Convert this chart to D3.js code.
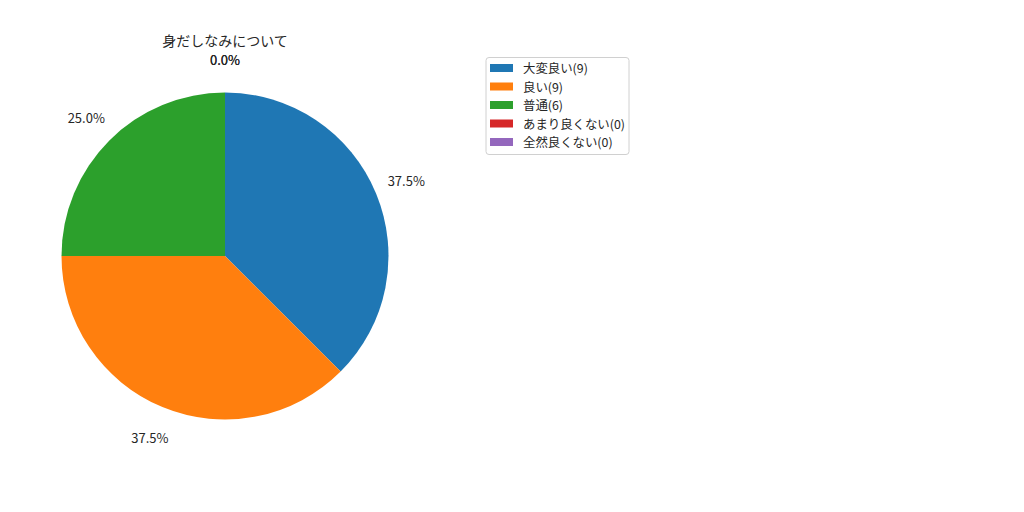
<!DOCTYPE html>
<html><head><meta charset="utf-8">
<script src="https://cdn.jsdelivr.net/npm/d3@7"></script>
<style>body{margin:0;background:#fff}svg{display:block}</style>
</head><body>
<svg id="chart" width="1024" height="512"></svg>
<script>
const title = "身だしなみについて";
const categories = ["大変良い", "良い", "普通", "あまり良くない", "全然良くない"];
const counts = [9, 9, 6, 0, 0];
const colors = ["#1f77b4", "#ff7f0e", "#2ca02c", "#d62728", "#9467bd"];

const FONT = "'Noto Sans CJK JP', 'DejaVu Sans', sans-serif";
const svg = d3.select("#chart");
const cx = 225, cy = 256, R = 163.5;
const total = d3.sum(counts);

const pie = d3.pie().sort(null).value(d => d.v).startAngle(0).endAngle(2 * Math.PI);
const data = pie(counts.map((v, i) => ({v, i})));
const arc = d3.arc().innerRadius(0).outerRadius(R);

const g = svg.append("g").attr("transform", `translate(${cx},${cy})`);
g.selectAll("path").data(data).join("path")
  .attr("d", arc)
  .attr("fill", d => colors[d.data.i]);

const pctR = R * 1.2;
g.selectAll("text.pct").data(data).join("text")
  .attr("class", "pct")
  .attr("x", d => pctR * Math.sin((d.startAngle + d.endAngle) / 2))
  .attr("y", d => -pctR * Math.cos((d.startAngle + d.endAngle) / 2))
  .attr("text-anchor", "middle")
  .attr("dominant-baseline", "central")
  .attr("font-family", FONT).attr("font-size", 13).attr("fill", "#262626")
  .text(d => (d.data.v / total * 100).toFixed(1) + "%");

svg.append("text")
  .attr("x", cx).attr("y", 40)
  .attr("text-anchor", "middle").attr("dominant-baseline", "central")
  .attr("font-family", FONT).attr("font-size", 14).attr("fill", "#262626")
  .text(title);

// legend
const lx = 486, ly = 57.5, lw = 143, lh = 97;
const leg = svg.append("g");
leg.append("rect").attr("x", lx).attr("y", ly).attr("width", lw).attr("height", lh)
  .attr("rx", 3).attr("fill", "#fff").attr("fill-opacity", 0.8)
  .attr("stroke", "#d0d0d0").attr("stroke-width", 1);
const rowY = d3.scalePoint().domain(d3.range(categories.length)).range([68, 142]);
const items = leg.selectAll("g.item").data(categories).join("g").attr("class", "item")
  .attr("transform", (d, i) => `translate(0,${rowY(i)})`);
items.append("rect").attr("x", 490).attr("y", -4).attr("width", 23).attr("height", 8)
  .attr("fill", (d, i) => colors[i]);
items.append("text").attr("x", 523).attr("y", 0)
  .attr("dominant-baseline", "central")
  .attr("font-family", FONT).attr("font-size", 12.4).attr("fill", "#262626")
  .text((d, i) => `${d}(${counts[i]})`);
</script>
</body></html>
